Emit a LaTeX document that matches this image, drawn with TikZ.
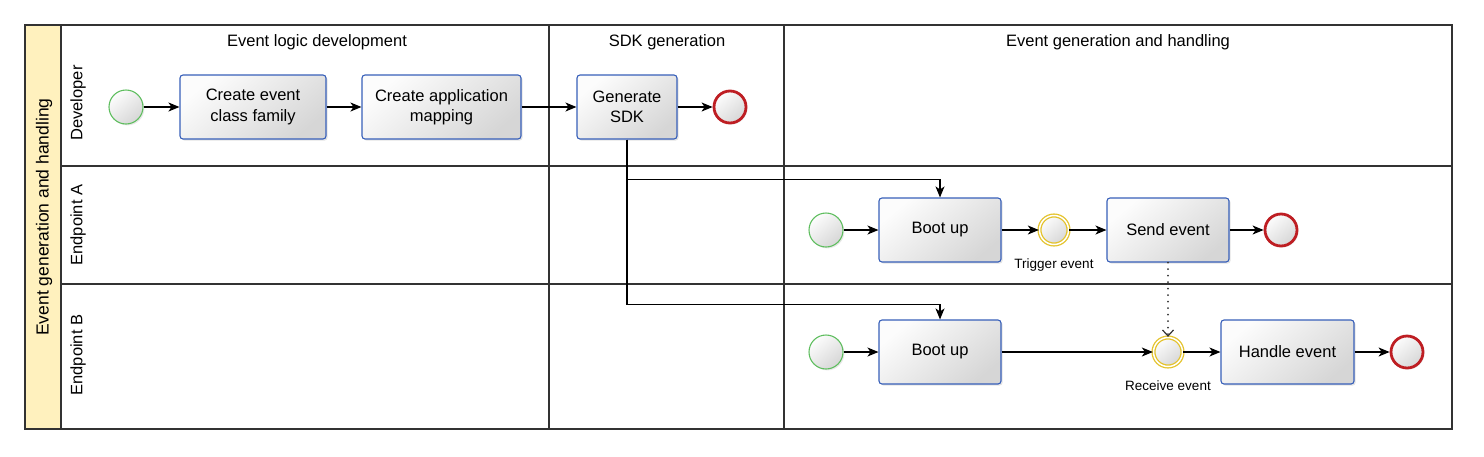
\documentclass[tikz,border=0pt]{standalone}
\usepackage{fontspec}
\setmainfont{Liberation Sans}
\usetikzlibrary{arrows.meta,shadows}

\definecolor{taskblue}{RGB}{55,95,185}
\definecolor{startgreen}{RGB}{95,190,95}
\definecolor{endred}{RGB}{190,30,35}
\definecolor{evyellow}{RGB}{228,195,45}
\definecolor{poolyellow}{RGB}{255,241,190}
\definecolor{framegray}{RGB}{50,50,50}

\tikzset{
  shade box/.style={top color=gray!2, bottom color=gray!32, shading angle=40},
  task/.style={shade box, draw=taskblue, line width=1.1pt, rounded corners=3pt,
    minimum height=64pt, align=center, inner sep=2pt,
    font=\fontsize{16.5}{20.5}\selectfont,
    drop shadow={opacity=0.22, shadow xshift=1.6pt, shadow yshift=-1.6pt}},
  startev/.style={circle, shade box, draw=startgreen, line width=1.1pt, minimum size=34pt,
    inner sep=0pt, drop shadow={opacity=0.18, shadow xshift=1.4pt, shadow yshift=-1.4pt}},
  endev/.style={circle, shade box, draw=endred, line width=2.8pt, minimum size=32pt,
    inner sep=0pt, drop shadow={opacity=0.18, shadow xshift=1.4pt, shadow yshift=-1.4pt}},
  midev/.style={circle, shade box, draw=evyellow, double=white, double distance=1.5pt,
    line width=1.3pt, minimum size=29pt, inner sep=0pt},
  evlabel/.style={font=\fontsize{13.5}{16}\selectfont},
  lanetext/.style={font=\fontsize{16.5}{19}\selectfont},
  flow/.style={line width=1.2pt, -{Stealth[length=11pt,width=9pt,inset=3pt]}},
  msg/.style={line width=2pt, line cap=round, dash pattern=on 0pt off 6.5pt, draw=black!80,
    -{Straight Barb[length=6pt,width=11pt,line width=1.2pt]}},
  frame/.style={draw=framegray, line width=1.2pt}
}

\begin{document}
\begin{tikzpicture}[x=1pt,y=-1pt]
\useasboundingbox (0,0) rectangle (1484,456);

% pool and lanes
\fill[poolyellow] (25,25) rectangle (61,429);
\draw[frame] (25,25) rectangle (1452,429);
\draw[frame] (61,25) -- (61,429);
\draw[frame] (61,166) -- (1452,166);
\draw[frame] (61,284) -- (1452,284);
\draw[frame] (549,25) -- (549,429);
\draw[frame] (784,25) -- (784,429);

\node[lanetext, rotate=90, font=\fontsize{17.5}{20}\selectfont] (pool) at (44,217) {Event generation and handling};
\node[lanetext, rotate=90] (devlane) at (78,103) {Developer};
\node[lanetext, rotate=90] (alane) at (78,225) {Endpoint A};
\node[lanetext, rotate=90] (blane) at (78,355) {Endpoint B};

\node[lanetext] (colone) at (317,42) {Event logic development};
\node[lanetext] (coltwo) at (667,42) {SDK generation};
\node[lanetext] (colthree) at (1118,42) {Event generation and handling};

% developer
\node[startev] (devstart) at (126,107) {};
\node[task, minimum width=146pt] (family) at (253,107) {Create event\\class family};
\node[task, minimum width=159pt] (mapping) at (441.5,107) {Create application\\mapping};
\node[task, minimum width=100pt] (sdk) at (627,107) {Generate\\SDK};
\node[endev] (devend) at (730,107) {};

\draw[flow] (devstart) -- (family);
\draw[flow] (family) -- (mapping);
\draw[flow] (mapping) -- (sdk);
\draw[flow] (sdk) -- (devend);

% endpoint A
\node[startev] (astart) at (826,230) {};
\node[task, minimum width=122pt] (aboot) at (940,230) {Boot up};
\node[midev] (trigger) at (1054,230) {};
\node[evlabel, below=10pt] (triggerlabel) at (trigger.south) {Trigger event};
\node[task, minimum width=122pt] (send) at (1168,230) {Send event};
\node[endev] (aend) at (1281,230) {};

\draw[flow] (astart) -- (aboot);
\draw[flow] (aboot) -- (trigger);
\draw[flow] (trigger) -- (send);
\draw[flow] (send) -- (aend);

% endpoint B
\node[startev] (bstart) at (826,352) {};
\node[task, minimum width=122pt] (bboot) at (940,352) {Boot up};
\node[midev] (receive) at (1168,352) {};
\node[evlabel, below=10pt] (receivelabel) at (receive.south) {Receive event};
\node[task, minimum width=133pt] (handle) at (1287.5,352) {Handle event};
\node[endev] (bend) at (1407,352) {};

\draw[flow] (bstart) -- (bboot);
\draw[flow] (bboot) -- (receive);
\draw[flow] (receive) -- (handle);
\draw[flow] (handle) -- (bend);

% sdk handed to both endpoints
\draw[flow] (sdk.south) -- ++(0,40) -| (aboot.north);
\draw[flow] (sdk.south) -- ++(0,165) -| (bboot.north);
\draw[msg] (send.south) -- (receive.north);

\end{tikzpicture}
\end{document}
